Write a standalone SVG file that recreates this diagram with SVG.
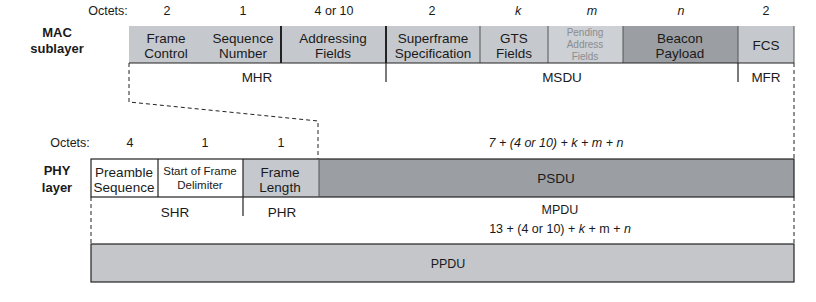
<svg xmlns="http://www.w3.org/2000/svg" width="816" height="302" viewBox="0 0 816 302">
<style>
text{font-family:"Liberation Sans",Arial,sans-serif;fill:#1a1a1a;text-anchor:middle}
.f{font-size:12.5px}
.g{font-size:13.5px}
.s{font-size:11.5px}
.b{font-size:13px;font-weight:bold}
.i{font-style:italic}
.ln{stroke:#222;stroke-width:1.2;fill:none}
.tk{stroke:#222;stroke-width:2;fill:none}
.th{stroke:#555;stroke-width:1;fill:none}
.d{stroke:#222;stroke-width:1;stroke-dasharray:4,3;fill:none}
.lg{fill:#c5c8cd}
.dg{fill:#9b9ea3}
.pp{fill:#c4c6ca;stroke:#222;stroke-width:1.2}
</style>
<rect width="816" height="302" fill="#fff"/>
<g id="mac-labels">
<text class="f" x="108" y="15">Octets:</text>
<text class="f" x="167" y="15">2</text>
<text class="f" x="243" y="15">1</text>
<text class="f" x="334" y="15">4 or 10</text>
<text class="f" x="432" y="15">2</text>
<text class="f i" x="518" y="15">k</text>
<text class="f i" x="592" y="15">m</text>
<text class="f i" x="681" y="15">n</text>
<text class="f" x="766" y="15">2</text>
<text class="b" x="57" y="37">MAC</text>
<text class="b" x="57" y="53">sublayer</text>
</g>
<g id="mac-frame">
<rect class="lg" x="129" y="26" width="152" height="37"/>
<rect class="lg" x="281" y="26" width="105" height="37"/>
<rect class="lg" x="386" y="26" width="94" height="37"/>
<rect class="lg" x="480" y="26" width="68" height="37"/>
<rect fill="#cdd0d4" x="548" y="26" width="75" height="37"/>
<rect class="dg" x="623" y="26" width="115" height="37"/>
<rect class="lg" x="738" y="26" width="56" height="37"/>
<line class="tk" x1="281" y1="26" x2="281" y2="63"/>
<line class="tk" x1="386" y1="26" x2="386" y2="63"/>
<line class="th" x1="480" y1="26" x2="480" y2="63"/>
<line class="th" x1="548" y1="26" x2="548" y2="63"/>
<line class="th" x1="623" y1="26" x2="623" y2="63"/>
<line class="th" x1="738" y1="26" x2="738" y2="63"/>
<line class="th" x1="794" y1="26" x2="794" y2="63"/>
<line class="ln" x1="129" y1="63" x2="794" y2="63"/>
<text class="g" x="166" y="43">Frame</text>
<text class="g" x="166" y="58">Control</text>
<text class="g" x="243" y="43">Sequence</text>
<text class="g" x="243" y="58">Number</text>
<text class="g" x="333" y="43">Addressing</text>
<text class="g" x="333" y="58">Fields</text>
<text class="g" x="433" y="43">Superframe</text>
<text class="g" x="433" y="58">Specification</text>
<text class="g" x="514" y="43">GTS</text>
<text class="g" x="514" y="58">Fields</text>
<text style="font-size:10px;fill:#8a8d92" x="585" y="36">Pending</text>
<text style="font-size:10px;fill:#8a8d92" x="585" y="48">Address</text>
<text style="font-size:10px;fill:#8a8d92" x="585" y="60">Fields</text>
<text class="g" x="680" y="43">Beacon</text>
<text class="g" x="680" y="58">Payload</text>
<text class="g" x="766" y="50">FCS</text>
</g>
<g id="mac-groups">
<line class="ln" x1="386" y1="63" x2="386" y2="82"/>
<line class="ln" x1="738" y1="63" x2="738" y2="82"/>
<text class="g" x="257" y="82">MHR</text>
<text class="g" x="562" y="82">MSDU</text>
<text class="g" x="766" y="82">MFR</text>
</g>
<g id="connectors">
<polyline class="d" points="129,63 129,102 318,121 318,159"/>
<line class="d" x1="794" y1="63" x2="794" y2="159"/>
<line class="d" x1="91" y1="197" x2="91" y2="244"/>
<line class="d" x1="794" y1="197" x2="794" y2="244"/>
</g>
<g id="phy-labels">
<text class="f" x="70" y="147">Octets:</text>
<text class="f" x="130" y="147">4</text>
<text class="f" x="205" y="147">1</text>
<text class="f" x="281" y="147">1</text>
<text class="f i" x="556" y="147">7 + (4 or 10)  + k + m + n</text>
<text class="b" x="57" y="175">PHY</text>
<text class="b" x="57" y="192">layer</text>
</g>
<g id="phy-frame">
<rect fill="#fff" x="91" y="159" width="152" height="38"/>
<rect class="lg" x="243" y="159" width="76" height="38"/>
<rect class="dg" x="319" y="159" width="475" height="38"/>
<rect class="ln" x="91" y="159" width="703" height="38"/>
<line class="ln" x1="158" y1="159" x2="158" y2="197"/>
<line class="ln" x1="243" y1="159" x2="243" y2="197"/>
<line class="th" x1="319" y1="159" x2="319" y2="197"/>
<text class="g" x="124" y="177">Preamble</text>
<text class="g" x="124" y="192">Sequence</text>
<text class="s" x="200" y="175">Start of Frame</text>
<text class="s" x="200" y="189">Delimiter</text>
<text class="g" x="280" y="177">Frame</text>
<text class="g" x="280" y="192">Length</text>
<text class="g" x="556" y="183">PSDU</text>
</g>
<g id="phy-groups">
<line class="ln" x1="243" y1="197" x2="243" y2="216"/>
<text class="g" x="175" y="217">SHR</text>
<text class="g" x="282" y="217">PHR</text>
<text class="f" x="560" y="214">MPDU</text>
<text class="f" x="560" y="233">13 + (4 or 10) + <tspan font-style="italic">k</tspan> + m + <tspan font-style="italic">n</tspan></text>
</g>
<g id="ppdu">
<rect class="pp" x="91" y="244" width="703" height="38"/>
<text class="f" x="448" y="268">PPDU</text>
</g>
</svg>
